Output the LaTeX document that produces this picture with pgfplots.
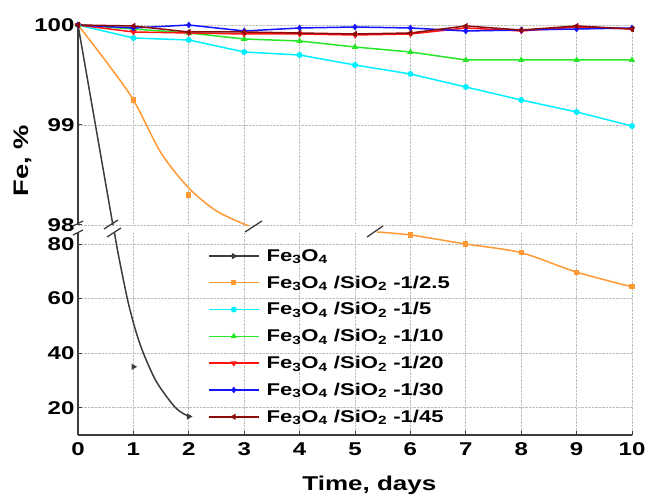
\documentclass[border=0pt]{standalone}
\usepackage{pgfplots}
\pgfplotsset{compat=1.18}
\usepackage{fontspec}
\setmainfont{Liberation Sans}[FakeStretch=1.3]
\definecolor{cblk}{RGB}{60,60,60}
\definecolor{corange}{RGB}{255,153,51}
\definecolor{ccyan}{RGB}{0,240,255}
\definecolor{cgreen}{RGB}{40,230,40}
\definecolor{cred}{RGB}{255,20,20}
\definecolor{cblue}{RGB}{20,20,255}
\definecolor{cdred}{RGB}{140,10,10}
\pgfplotsset{
  brk/.style={
    scale only axis, width=554pt,
    xmin=0, xmax=10, xtick={0,...,10},
    grid=major, grid style={densely dotted, black!25, line width=0.9pt},
    axis line style={cblk, line width=1.3pt},
    tick style={cblk, line width=1pt}, major tick length=4pt,
    ticklabel style={font=\fontsize{18.5}{20}\selectfont\bfseries},
    /pgf/number format/assume math mode=true,
    every axis plot/.append style={line width=1.5pt},
    mark size=2.2pt,
  }
}
\begin{document}
\begin{tikzpicture}[x=1pt,y=1pt]
\path[use as bounding box] (0,0) rectangle (648,503);

% upper panel 98-100
\begin{axis}[brk, at={(78pt,278pt)}, anchor=south west, height=200pt,
  ymin=98, ymax=100, ytick={98,99,100},
  axis y line*=left, axis x line*=bottom,
  x axis line style={draw=none}, xtick style={draw=none}, xticklabels={},
  ylabel={Fe, \%},
  ylabel style={font=\fontsize{21}{23}\selectfont\bfseries, at={(axis description cs:-0.099,0.32)}, anchor=center},
  clip=false]
\addplot[cblk] coordinates {(0,100) (0.63,98)};
\addplot[corange, smooth] coordinates {(0,100) (0.5,99.64) (1,99.25) (1.5,98.72) (2,98.37) (2.5,98.14) (3.08,97.99)};
\addplot[corange, only marks, mark=square*, mark size=1.8pt] coordinates {(1,99.25) (2,98.3)};
\addplot[ccyan, mark=*] coordinates {(0,100) (1,99.87) (2,99.85) (3,99.73) (4,99.70) (5,99.60) (6,99.51) (7,99.38) (8,99.25) (9,99.13) (10,98.99)};
\addplot[cgreen, mark=triangle*] coordinates {(0,100) (1,99.96) (2,99.92) (3,99.86) (4,99.84) (5,99.78) (6,99.73) (7,99.65) (8,99.65) (9,99.65) (10,99.65)};
\addplot[cred, mark=triangle*, mark options={rotate=180}] coordinates {(0,100) (1,99.93) (2,99.92) (3,99.91) (4,99.91) (5,99.90) (6,99.91) (7,99.97) (8,99.94) (9,99.98) (10,99.96)};
\addplot[cblue, mark=diamond*] coordinates {(0,100) (1,99.97) (2,100) (3,99.94) (4,99.97) (5,99.98) (6,99.97) (7,99.94) (8,99.95) (9,99.96) (10,99.97)};
\addplot[cdred, mark=triangle*, mark options={rotate=90}] coordinates {(0,100) (1,99.99) (2,99.93) (3,99.93) (4,99.92) (5,99.91) (6,99.92) (7,99.99) (8,99.95) (9,99.99) (10,99.96)};
\end{axis}

% lower panel 10-84
\begin{axis}[brk, at={(78pt,68pt)}, anchor=south west, height=203pt,
  ymin=10, ymax=84.4, ytick={20,40,60,80},
  axis y line*=left, axis x line*=bottom,
  xticklabel style={yshift=-4pt},
  xlabel={Time, days},
  xlabel style={font=\fontsize{20}{22}\selectfont\bfseries, at={(axis description cs:0.526,-0.25)}, anchor=center},
  legend cell align=left,
  legend style={at={(axis description cs:0.229,0.93)}, anchor=north west,
    draw=none, fill=none, row sep=11pt,
    font=\fontsize{17}{18}\selectfont\bfseries,
    nodes={inner sep=1pt},
    /tikz/every odd column/.append style={column sep=6pt}},
  legend image code/.code={\draw[mark repeat=2,mark phase=2] plot coordinates {(0pt,0pt) (25pt,0pt) (50pt,0pt)};},
  clip=false]
\addplot[cblk, smooth, forget plot] coordinates {(0.66,84) (0.72,77) (0.89,60) (1.03,49) (1.18,40) (1.42,29.4) (1.76,20) (2,16.8)};
\addplot[cblk, only marks, mark=triangle*, mark options={rotate=-90}, forget plot] coordinates {(1,35) (2,16.8)};
\addplot[corange, smooth, mark=square*, mark size=1.8pt, mark indices={2,3,4,5,6}, forget plot] coordinates {(5.4,84.4) (6,83.3) (7,80) (8,76.8) (9,69.7) (10,64.3)};
\addlegendimage{cblk, line width=1.5pt, mark=triangle*, mark options={rotate=-90}}
\addlegendentry{Fe\textsubscript{3}O\textsubscript{4}}
\addlegendimage{corange, line width=1.5pt, mark=square*, mark size=1.8pt}
\addlegendentry{Fe\textsubscript{3}O\textsubscript{4} /SiO\textsubscript{2} -1/2.5}
\addlegendimage{ccyan, line width=1.5pt, mark=*}
\addlegendentry{Fe\textsubscript{3}O\textsubscript{4} /SiO\textsubscript{2} -1/5}
\addlegendimage{cgreen, line width=1.5pt, mark=triangle*}
\addlegendentry{Fe\textsubscript{3}O\textsubscript{4} /SiO\textsubscript{2} -1/10}
\addlegendimage{cred, line width=1.5pt, mark=triangle*, mark options={rotate=180}}
\addlegendentry{Fe\textsubscript{3}O\textsubscript{4} /SiO\textsubscript{2} -1/20}
\addlegendimage{cblue, line width=1.5pt, mark=diamond*}
\addlegendentry{Fe\textsubscript{3}O\textsubscript{4} /SiO\textsubscript{2} -1/30}
\addlegendimage{cdred, line width=1.5pt, mark=triangle*, mark options={rotate=90}}
\addlegendentry{Fe\textsubscript{3}O\textsubscript{4} /SiO\textsubscript{2} -1/45}
\end{axis}

% axis break marks
\begin{scope}[cblk, line width=1.3pt]
\draw (73,277) -- (83,282);
\draw (73,268) -- (83,273);
\draw (104,274) -- (118,283);
\draw (107,266) -- (121,275);
\draw (245,271) -- (262,282);
\draw (367,266) -- (383,277);
\end{scope}
\end{tikzpicture}
\end{document}
